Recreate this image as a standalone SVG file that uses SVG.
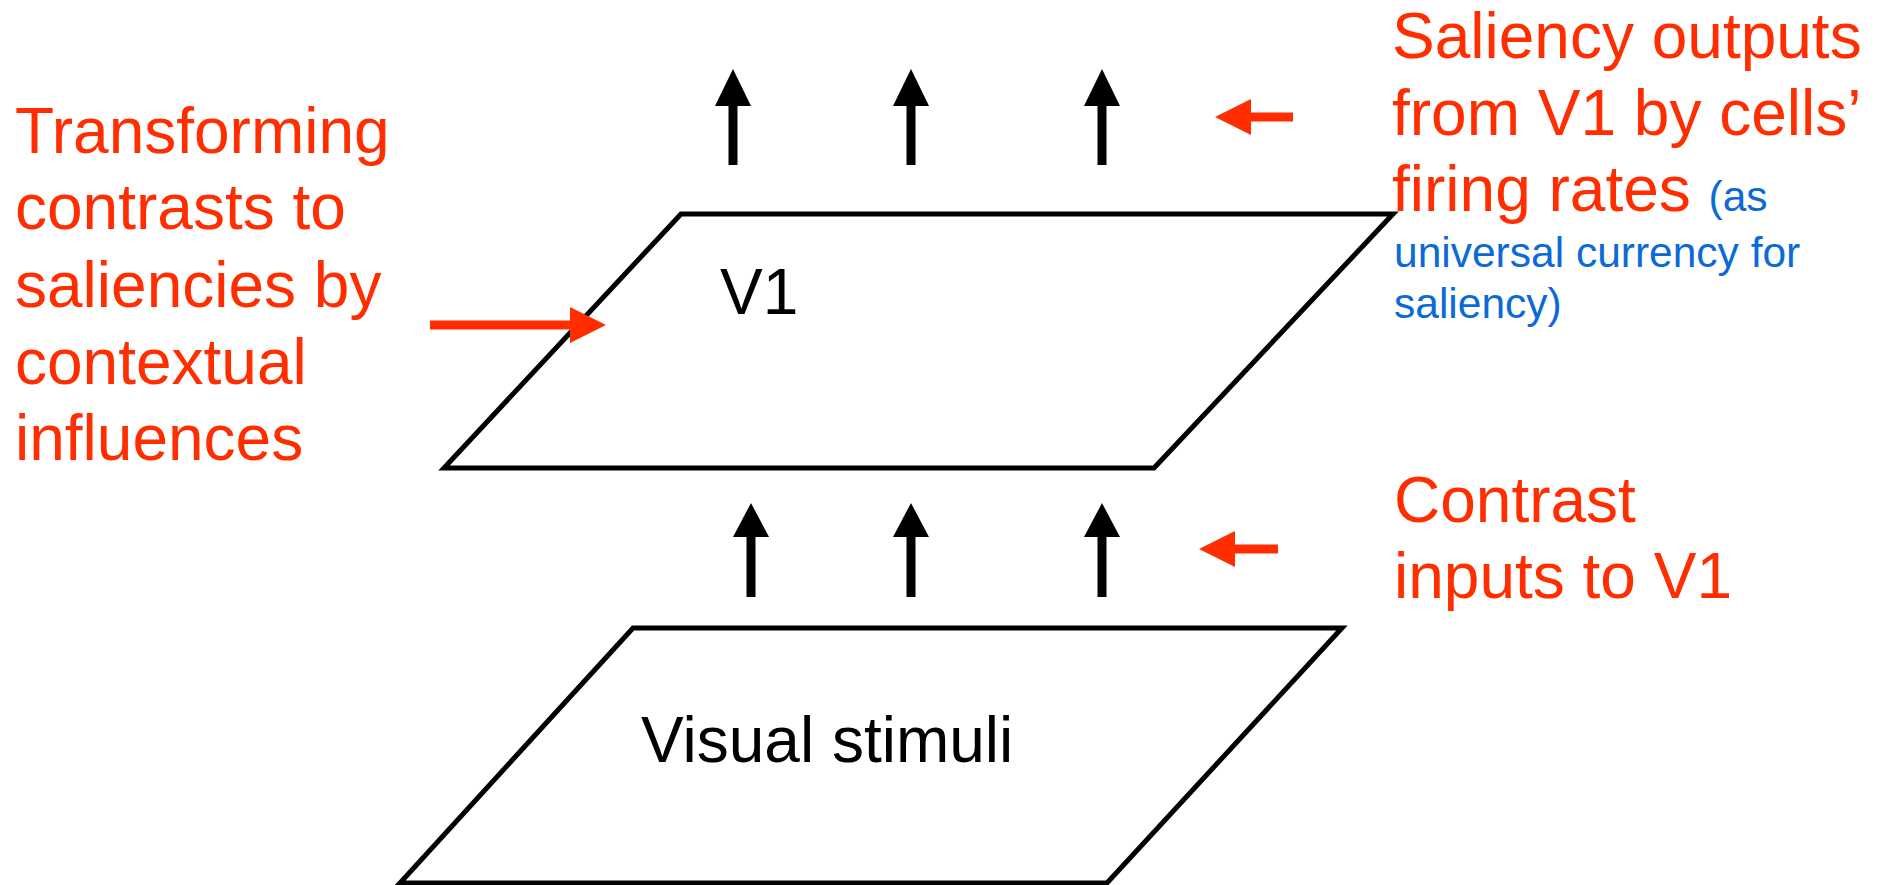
<svg xmlns="http://www.w3.org/2000/svg" width="1883" height="885" viewBox="0 0 1883 885">
<style>
.plane{fill:#fff;stroke:#000;stroke-width:5;stroke-linejoin:miter}
.lbl{font-family:"Liberation Sans",Arial,sans-serif;font-size:64px;fill:#000}
.red{font-family:"Liberation Sans",Arial,sans-serif;font-size:64px;fill:#FF2D00}
.blue{font-family:"Liberation Sans",Arial,sans-serif;font-size:42.5px;fill:#0A6AD8}
.shaft{stroke:#000;stroke-width:9}
.head{fill:#000}
.rshaft{stroke:#FF2D00;stroke-width:9}
.rhead{fill:#FF2D00}
</style>
<rect width="1883" height="885" fill="#fff"/>
<g id="stimuli">
<polygon class="plane" points="633,628 1342,628 1107,883 400,883"/>
<text class="lbl" x="641" y="762">Visual stimuli</text>
</g>
<g id="v1">
<polygon class="plane" points="681,214 1393,214 1154,468 444,468"/>
<text class="lbl" x="720" y="314">V1</text>
</g>
<g id="connectors">
<line class="shaft" x1="733" y1="165" x2="733" y2="104"/>
<polygon class="head" points="733,69 715,106 751,106"/>
<line class="shaft" x1="911" y1="165" x2="911" y2="104"/>
<polygon class="head" points="911,69 893,106 929,106"/>
<line class="shaft" x1="1102" y1="165" x2="1102" y2="104"/>
<polygon class="head" points="1102,69 1084,106 1120,106"/>
<line class="shaft" x1="751" y1="597" x2="751" y2="535"/>
<polygon class="head" points="751,503 733,537 769,537"/>
<line class="shaft" x1="911" y1="597" x2="911" y2="535"/>
<polygon class="head" points="911,503 893,537 929,537"/>
<line class="shaft" x1="1102" y1="597" x2="1102" y2="535"/>
<polygon class="head" points="1102,503 1084,537 1120,537"/>
<line class="rshaft" x1="430" y1="325" x2="572" y2="325"/>
<polygon class="rhead" points="606,325 570,307 570,343"/>
<line class="rshaft" x1="1293" y1="117" x2="1249" y2="117"/>
<polygon class="rhead" points="1215,117 1251,99 1251,135"/>
<line class="rshaft" x1="1278" y1="549" x2="1233" y2="549"/>
<polygon class="rhead" points="1199,549 1235,531 1235,567"/>
</g>
<g id="label-left">
<text class="red" x="15" y="153">Transforming</text>
<text class="red" x="15" y="229">contrasts to</text>
<text class="red" x="15" y="307">saliencies by</text>
<text class="red" x="15" y="384">contextual</text>
<text class="red" x="15" y="460">influences</text>
</g>
<g id="label-outputs">
<text class="red" x="1392" y="58">Saliency outputs</text>
<text class="red" x="1392" y="135">from V1 by cells’</text>
<text class="red" x="1392" y="211">firing rates <tspan class="blue">(as</tspan></text>
<text class="blue" x="1394" y="267">universal currency for</text>
<text class="blue" x="1394" y="318">saliency)</text>
</g>
<g id="label-inputs">
<text class="red" x="1394" y="522">Contrast</text>
<text class="red" x="1394" y="598">inputs to V1</text>
</g>
</svg>
